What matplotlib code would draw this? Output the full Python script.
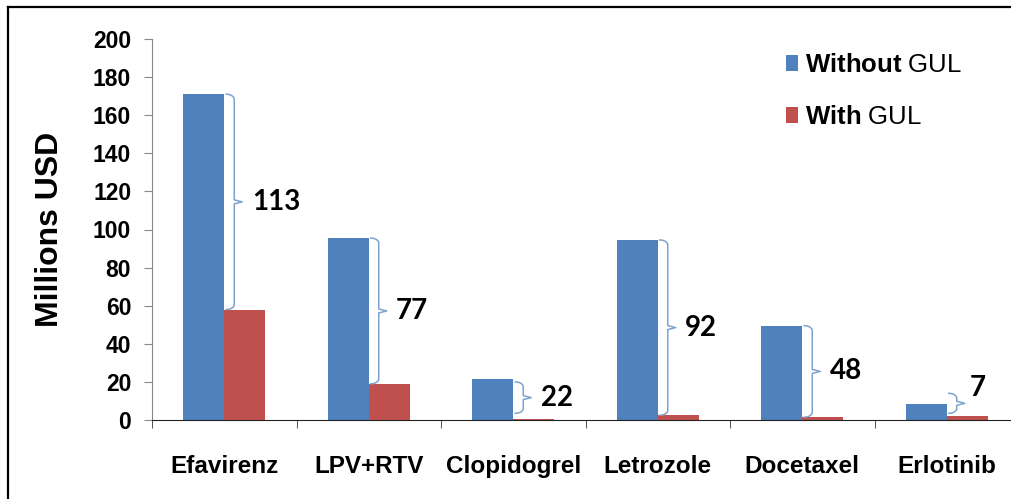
import numpy as np
import matplotlib
matplotlib.use("Agg")
import matplotlib.pyplot as plt
from matplotlib.lines import Line2D

plt.rcParams['font.family'] = ['Liberation Sans', 'DejaVu Sans']
plt.rcParams['mathtext.fontset'] = 'custom'
plt.rcParams['mathtext.rm'] = 'Liberation Sans'
plt.rcParams['mathtext.bf'] = 'Liberation Sans:bold'

# data
drugs = ['Efavirenz', 'LPV+RTV', 'Clopidogrel', 'Letrozole', 'Docetaxel', 'Erlotinib']
without_gul = [171, 95.5, 21.5, 94.5, 49.5, 8.5]
with_gul = [58, 19, 0.4, 2.5, 1.5, 2]
savings = [113, 77, 22, 92, 48, 7]

blue = '#4F81BD'
red = '#C0504D'

fig = plt.figure(figsize=(10.12, 4.99), dpi=100)
ax = fig.add_axes([152/1012, 79/499, 867/1012, 381/499])

x = np.arange(len(drugs))
w = 0.285
ax.bar(x - w/2, without_gul, w, color=blue, label=r'$\mathbf{Without}$ GUL')
ax.bar(x + w/2, with_gul, w, color=red, label=r'$\mathbf{With}$ GUL')

ax.set_xlim(-0.5, len(drugs) - 0.5)
ax.set_ylim(0, 200)
ax.set_yticks(np.arange(0, 201, 20))
ax.set_xticks(x)
ax.set_xticklabels(drugs, fontsize=17.5, fontweight='bold')
ax.set_xticks(np.arange(-0.5, len(drugs), 1), minor=True)
ax.tick_params(axis='x', which='major', length=0, pad=25)
ax.tick_params(axis='x', which='minor', length=6, direction='out', color='#333333')
ax.tick_params(axis='y', length=6, direction='out', color='#888888', pad=9, labelsize=16.5)
for lab in ax.get_yticklabels():
    lab.set_fontweight('bold')

ax.spines['top'].set_visible(False)
ax.spines['right'].set_visible(False)
ax.spines['left'].set_color('#888888')
ax.spines['bottom'].set_color('#222222')
ax.set_ylabel('Millions USD', fontsize=23, fontweight='bold', labelpad=20)


# curly braces between the bars with the difference
def brace(ax, xe, y0, y1, color='#7fa3cf'):
    px = 1 / 144.5      # category units per pixel
    py = 200 / 381      # data units per pixel
    xa, xb, xc = xe + 2*px, xe + 10*px, xe + 18*px
    r = min(5*py, (y1 - y0) / 4)
    ym = (y0 + y1) / 2
    t = np.linspace(0, np.pi/2, 12)
    top = [(xa + (xb - xa) * np.sin(a), y1 - r + r * np.cos(a)) for a in t]
    bot = [(xa + (xb - xa) * np.cos(a), y0 + r - r * np.sin(a)) for a in t]
    xs = [p[0] for p in top] + [xb, xb, xc, xb, xb] + [p[0] for p in bot]
    ys = [p[1] for p in top] + [y1 - r, ym + r*0.4, ym, ym - r*0.4, y0 + r] + [p[1] for p in bot]
    ax.add_line(Line2D(xs, ys, color=color, lw=1.1))


for i in range(len(drugs)):
    hi = without_gul[i]
    lo = with_gul[i]
    if i == 2:
        lo, hi = 3.5, 20
    if i == 5:
        lo, hi = 3.5, 14
    brace(ax, i, lo, hi)
    ty = 17 if i == 5 else (lo + hi) / 2
    tx = i + 0.16 if i == 5 else i + 0.19
    ax.text(tx, ty, str(savings[i]), fontsize=20, family='Lato', fontweight='bold',
            va='center', ha='left')

leg = ax.legend(loc='upper left', bbox_to_anchor=(786/1012, 1 - 53/499),
                bbox_transform=fig.transFigure, frameon=False, fontsize=18.5,
                handlelength=0.45, handleheight=0.6, handletextpad=0.3,
                labelspacing=1.1, borderpad=0, borderaxespad=0)

# outer frame of the figure
fig.add_artist(Line2D([8/1012, 8/1012], [-0.1, 1 - 7/499], transform=fig.transFigure,
                      color='black', lw=1.6))
fig.add_artist(Line2D([8/1012, 1.1], [1 - 7/499, 1 - 7/499], transform=fig.transFigure,
                      color='black', lw=1.6))

fig.savefig('out.png', dpi=100)
